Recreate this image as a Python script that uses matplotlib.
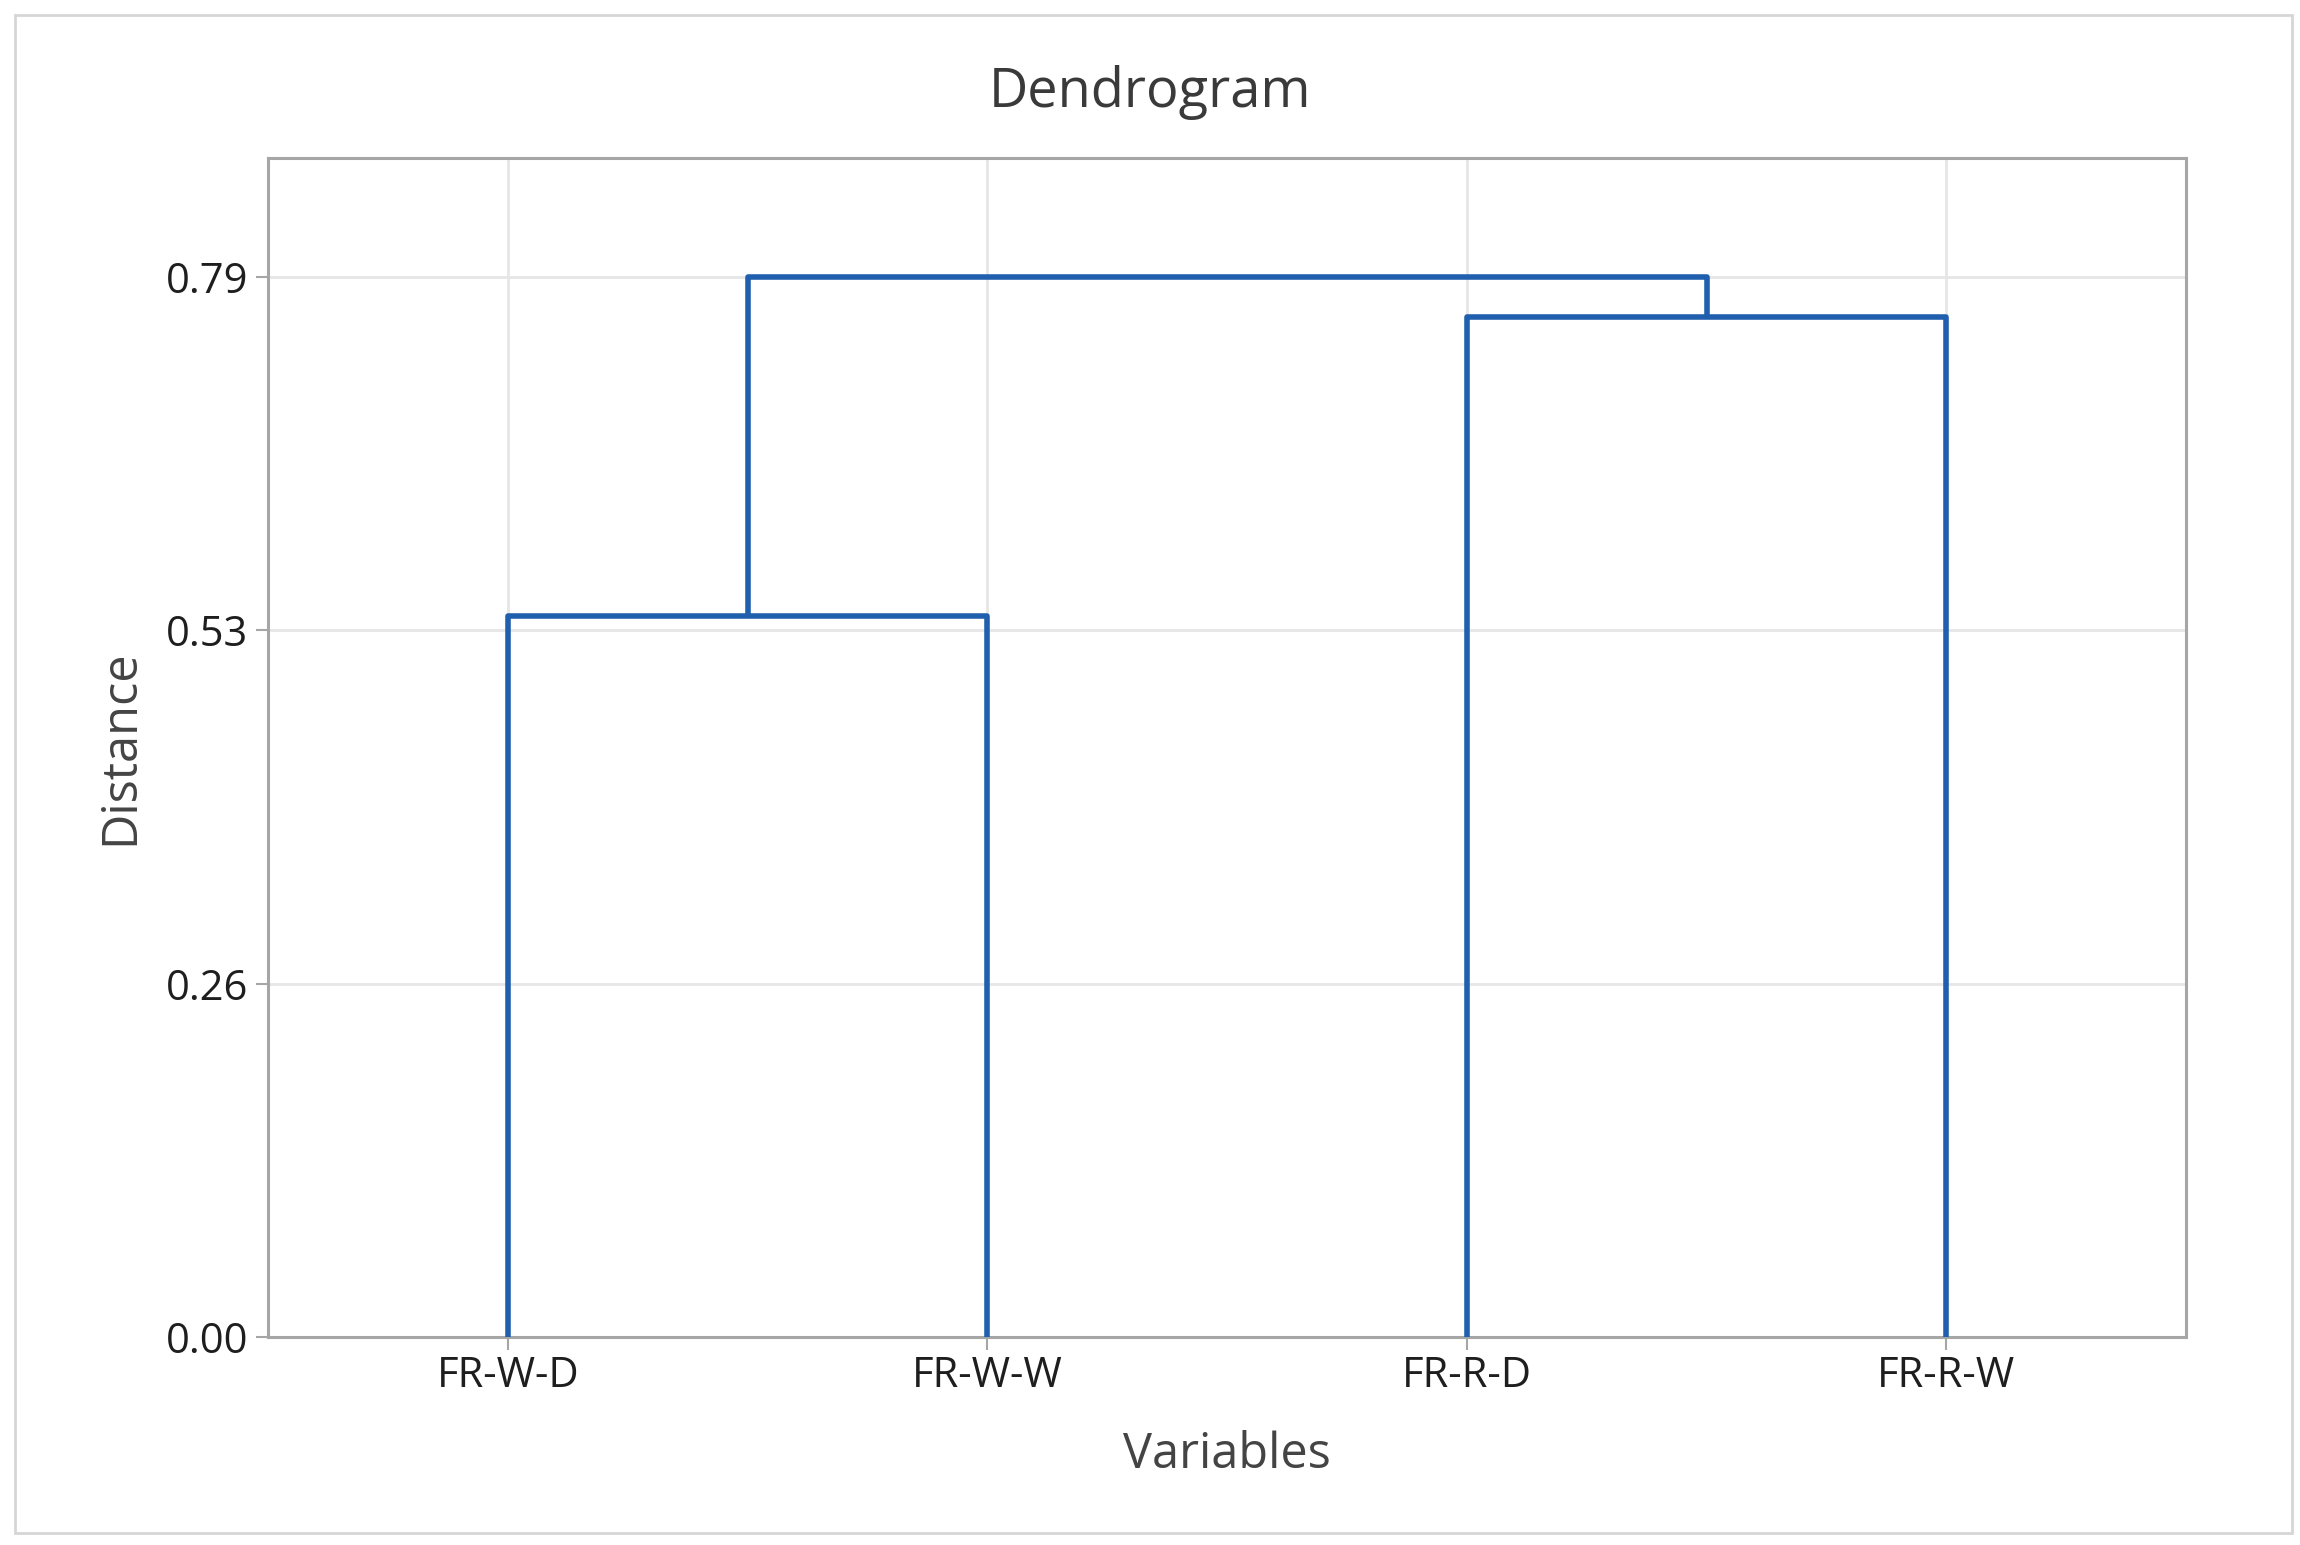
import matplotlib
matplotlib.use("Agg")
import matplotlib.pyplot as plt
from matplotlib.patches import Rectangle

# ---- data ----
leaves = ["FR-W-D", "FR-W-W", "FR-R-D", "FR-R-W"]
# merges: (left member, right member, height); members >= len(leaves) refer to earlier clusters
merge_left = [0, 2, 4]
merge_right = [1, 3, 5]
merge_height = [0.537, 0.760, 0.790]
ytick_vals = [0.0, 0.2633, 0.5267, 0.79]
ytick_labels = ["0.00", "0.26", "0.53", "0.79"]

plt.rcParams['font.family'] = ['Open Sans', 'DejaVu Sans']

W, H, DPI = 2300, 1545, 100
fig = plt.figure(figsize=(W / DPI, H / DPI), dpi=DPI)
fig.patch.set_facecolor("white")

# outer border
fig.patches.append(Rectangle((15 / W, 1 - 1533 / H), (2292 - 15) / W, (1533 - 15) / H,
                             transform=fig.transFigure, fill=False,
                             edgecolor="#d6d6d6", linewidth=2.0))

ax = fig.add_axes([268 / W, 1 - 1337 / H, (2186 - 268) / W, (1337 - 158) / H])

blue = "#1f5fae"
n = len(leaves)
pos = {i: i + 1 for i in range(n)}
hgt = {i: 0.0 for i in range(n)}
for k, (a, b, h) in enumerate(zip(merge_left, merge_right, merge_height)):
    xa, xb = pos[a], pos[b]
    ax.plot([xa, xa, xb, xb], [hgt[a], h, h, hgt[b]], color=blue, lw=4.0,
            solid_joinstyle="round", solid_capstyle="butt", zorder=3)
    pos[n + k] = (xa + xb) / 2
    hgt[n + k] = h

ax.set_xlim(0.5, n + 0.5)
ax.set_ylim(0, 0.8787)
ax.set_xticks(range(1, n + 1))
ax.set_xticklabels(leaves)
ax.set_yticks(ytick_vals)
ax.set_yticklabels(ytick_labels)

ax.grid(True, color="#e6e6e6", linewidth=2.0, zorder=0)
ax.set_axisbelow(True)
for s in ax.spines.values():
    s.set_color("#a6a6a6")
    s.set_linewidth(2.2)
ax.tick_params(axis="both", direction="out", length=9, width=1.5, color="#a6a6a6",
               labelsize=30, labelcolor="#1e1e1e")
ax.tick_params(axis="x", pad=4)
ax.tick_params(axis="y", pad=5)

fig.text(0.5, 1 - 93 / H, "Dendrogram", fontsize=39, color="#3a3a3a",
         ha="center", va="center")
ax.set_xlabel("Variables", fontsize=35, color="#444444")
ax.set_ylabel("Distance", fontsize=35, color="#444444")
ax.xaxis.set_label_coords(0.5, (1337 - 1455) / (1337 - 158))
ax.xaxis.label.set_va("center")
ax.yaxis.set_label_coords((121 - 268) / (2186 - 268), 0.5)
ax.yaxis.label.set_va("center")

fig.savefig("out.png", dpi=DPI, facecolor="white")
